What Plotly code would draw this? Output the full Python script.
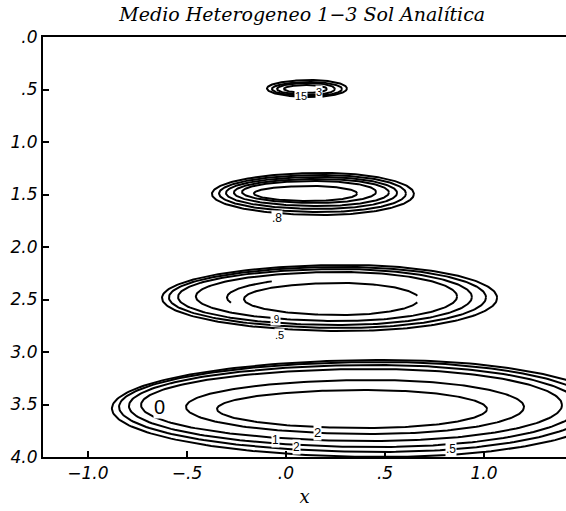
import numpy as np
import plotly.graph_objects as go

# ---- data (data coordinates) ----
# Each contour: left x, right x, top y, bottom y (y axis reversed: 0 at top)
g1_left   = [-0.096, -0.071, -0.045, -0.010]
g1_right  = [0.308, 0.283, 0.247, 0.207]
g1_top    = [0.410, 0.429, 0.438, 0.457]
g1_bottom = [0.571, 0.562, 0.552, 0.533]

g2_left   = [-0.374, -0.338, -0.303, -0.263, -0.222, -0.162]
g2_right  = [0.646, 0.606, 0.561, 0.520, 0.455, 0.359]
g2_top    = [1.295, 1.314, 1.333, 1.352, 1.371, 1.419]
g2_bottom = [1.695, 1.667, 1.638, 1.610, 1.581, 1.562]

g3_left   = [-0.626, -0.591, -0.545, -0.455, -0.212, -0.298]
g3_right  = [1.066, 1.010, 0.939, 0.864, 0.672, 0.773]
g3_top    = [2.171, 2.190, 2.210, 2.238, 2.343, 2.286]
g3_bottom = [2.800, 2.771, 2.743, 2.705, 2.648, 2.676]
g3_arc_start = [0, 0, 0, 0, 12, 165]
g3_arc_end   = [360, 360, 360, 360, 348, 232]

g4_left   = [-0.879, -0.843, -0.793, -0.732, -0.505, -0.348]
g4_right  = [1.631, 1.556, 1.480, 1.394, 1.202, 1.015]
g4_top    = [3.076, 3.095, 3.124, 3.162, 3.267, 3.362]
g4_bottom = [4.000, 3.952, 3.905, 3.848, 3.781, 3.724]

label_text = ["15", "3", ".8", ".9", ".5", "0", "2", "2", "1", ".5"]
label_x    = [0.076, 0.167, -0.045, -0.051, -0.035, -0.641, 0.157, 0.051, -0.051, 0.833]
label_y    = [0.562, 0.524, 1.724, 2.690, 2.835, 3.524, 3.771, 3.905, 3.838, 3.924]
label_size = [11, 11, 12, 10, 11, 20, 13, 12, 12, 12]

x_tickvals = [-1.0, -0.5, 0.0, 0.5, 1.0]
x_ticktext = ["\u22121.0", "\u2212.5", ".0", ".5", "1.0"]
y_tickvals = [0.0, 0.5, 1.0, 1.5, 2.0, 2.5, 3.0, 3.5, 4.0]
y_ticktext = [".0", ".5", "1.0", "1.5", "2.0", "2.5", "3.0", "3.5", "4.0"]

title_text = "Medio Heterogeneo 1\u22123 Sol Analítica"

# ---- drawing ----
SKEW = 0.55  # fraction of width where the contour is tallest


def contour_path(L, R, T, B, a0=0.0, a1=360.0):
    cx = L + SKEW * (R - L)
    cy = T + 0.5 * (B - T)
    th = np.radians(np.linspace(a0, a1, 240))
    c, s = np.cos(th), np.sin(th)
    rx = np.where(c >= 0, R - cx, cx - L)
    ry = np.where(s >= 0, B - cy, cy - T)
    return cx + rx * c, cy + ry * s


fig = go.Figure()
groups = [
    (g1_left, g1_right, g1_top, g1_bottom, None, None),
    (g2_left, g2_right, g2_top, g2_bottom, None, None),
    (g3_left, g3_right, g3_top, g3_bottom, g3_arc_start, g3_arc_end),
    (g4_left, g4_right, g4_top, g4_bottom, None, None),
]
for L_, R_, T_, B_, A0, A1 in groups:
    for i in range(len(L_)):
        a0 = A0[i] if A0 else 0
        a1 = A1[i] if A1 else 360
        xs, ys = contour_path(L_[i], R_[i], T_[i], B_[i], a0, a1)
        fig.add_trace(go.Scatter(x=xs, y=ys, mode="lines",
                                 line=dict(color="black", width=2),
                                 hoverinfo="skip", showlegend=False))

for t, x, y, s in zip(label_text, label_x, label_y, label_size):
    fig.add_annotation(x=x, y=y, text=t, showarrow=False,
                       font=dict(family="Liberation Sans", size=s, color="black"),
                       bgcolor="white", borderpad=0)

fig.update_layout(
    width=566, height=511,
    margin=dict(l=43, r=0, t=37, b=54),
    paper_bgcolor="white", plot_bgcolor="white",
    title=dict(text=title_text, x=0.534, xanchor="center", y=0.972, yanchor="middle",
               font=dict(family="DejaVu Serif", size=19, color="black", style="italic")),
    showlegend=False,
)
fig.update_xaxes(
    range=[-1.227, 1.414], tickvals=x_tickvals, ticktext=x_ticktext,
    ticks="inside", ticklen=6, tickwidth=1.5, tickcolor="black",
    showline=True, linecolor="black", linewidth=2, mirror=True,
    showgrid=False, zeroline=False,
    tickfont=dict(family="DejaVu Sans", size=17, color="black", style="italic"),
    title=dict(text="x", standoff=8,
               font=dict(family="DejaVu Serif", size=18, color="black", style="italic")),
)
fig.update_yaxes(
    range=[4.0, 0.0], tickvals=y_tickvals, ticktext=y_ticktext,
    ticks="inside", ticklen=6, tickwidth=1.5, tickcolor="black",
    showline=True, linecolor="black", linewidth=2,
    showgrid=False, zeroline=False,
    tickfont=dict(family="DejaVu Sans", size=17, color="black", style="italic"),
)

fig.write_html("out.html")
